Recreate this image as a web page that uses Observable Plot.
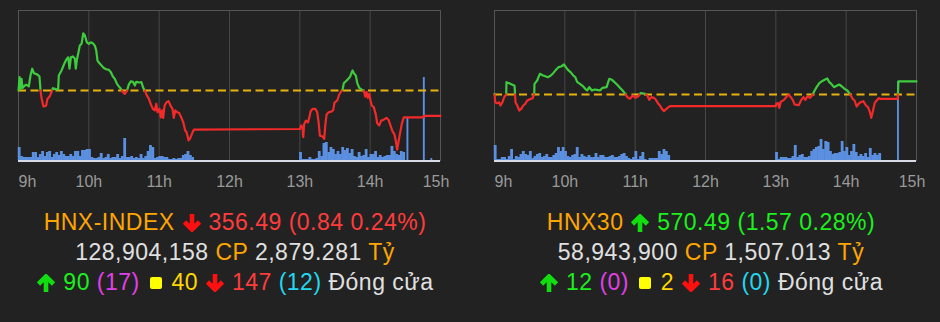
<!DOCTYPE html>
<html><head><meta charset="utf-8">
<script src="https://cdn.jsdelivr.net/npm/d3@7"></script>
<script src="https://cdn.jsdelivr.net/npm/@observablehq/plot@0.6"></script>
<style>
html,body{margin:0;padding:0;background:#222;}
#wrap{position:relative;width:940px;height:322px;background:#222;overflow:hidden;font-family:"Liberation Sans",Arial,Helvetica,sans-serif;}
.panel{position:absolute;top:0;width:470px;height:200px;}
.panel svg{position:absolute;left:0;top:0;}
.info{position:absolute;top:207px;width:470px;text-align:center;font-size:23px;letter-spacing:0.5px;line-height:30px;color:#e0e0e0;white-space:nowrap;}
.info div{height:30px;}
.o{color:#ffa500}.r{color:#ff3c3c}.g{color:#1cf01c}.m{color:#e040e8}.y{color:#ffd700}.c{color:#22d8ef}.w{color:#e0e0e0}
.ar{display:inline-block;vertical-align:-2px;}
.sq{display:inline-block;width:12px;height:12px;border-radius:2px;background:#ffff00;vertical-align:1px;margin:0 3px;}
</style></head>
<body><div id="wrap">
<div class="panel" id="p1" style="left:0"></div>
<div class="panel" id="p2" style="left:470px"></div>
<div class="info" id="i1" style="left:0"></div>
<div class="info" id="i2" style="left:482px;width:458px"></div>
</div>
<script>
// ---------- x ticks ----------
const tickMinutes = [0, 60, 120, 180, 240, 300, 360];
const tickLabels = ["9h", "10h", "11h", "12h", "13h", "14h", "15h"];

// ---------- HNX-INDEX (minutes after 9:00, index value) ----------
const hnxRef = 357.33;
const hnxMin = [0,0.9,1.7,2.6,3.4,4.6,6.5,8.8,10.2,11.7,13.1,15.9,17.9,18.8,19.6,21.3,23.6,24.7,26.5,28.2,29.3,32.1,33.8,34.4,36.7,39.0,40.7,42.4,43.5,44.7,46.4,48.1,48.9,49.8,50.9,52.3,53.8,55.2,56.6,58.3,60.0,61.7,63.4,65.1,66.3,67.4,69.1,70.8,72.5,74.8,77.1,78.8,80.5,82.2,83.9,85.6,87.3,89.0,90.7,92.4,94.1,95.8,97.6,99.3,100.4,103.2,104.9,106.4,107.8,109.5,111.2,112.9,114.6,116.3,117.5,118.6,120.3,121.4,122.6,123.4,124.6,126.3,128.0,129.7,131.4,132.5,133.7,135.4,137.1,138.8,140.5,142.2,143.4,145.1,146.2,147.4,148.5,149.6,
240.0,241.2,242.3,242.9,243.7,245.2,246.9,248.0,249.2,250.9,253.2,254.8,256.0,257.1,259.4,260.8,261.7,262.8,264.5,266.8,268.4,269.6,271.9,273.6,275.3,276.4,277.6,279.3,281.0,282.7,283.8,285.0,286.1,287.8,289.0,290.7,292.9,294.6,295.8,296.9,298.0,299.2,300.3,301.4,303.1,304.8,306.0,307.7,309.4,311.6,313.9,315.6,317.3,319.0,320.7,321.8,323.0,324.1,325.3,327.0,328.7,345.0,345.8,360];
const hnxVal = [357.33,357.78,357.39,357.72,357.42,357.47,357.53,357.47,357.83,358.06,357.91,357.87,357.80,357.33,357.09,356.80,356.83,357.06,357.13,357.28,357.41,357.38,357.37,357.83,358.00,358.22,358.36,358.44,358.06,358.44,358.47,358.39,358.06,358.36,358.56,358.83,358.89,359.24,359.17,358.94,358.89,358.94,358.91,358.83,358.67,358.33,358.24,358.17,358.09,358.04,358.02,357.94,357.80,357.72,357.56,357.47,357.39,357.28,357.22,357.31,357.53,357.64,357.62,357.50,357.62,357.60,357.61,357.42,357.33,357.17,357.06,356.87,356.72,356.67,356.89,356.61,356.72,356.44,356.67,356.42,356.83,356.94,356.98,356.83,356.72,356.42,356.67,356.61,356.58,356.44,356.28,356.00,355.94,355.67,355.72,355.83,355.94,356.03,
356.05,356.17,356.09,355.78,356.22,356.33,356.27,356.42,356.64,356.72,356.72,356.61,356.28,355.83,355.80,355.72,356.17,356.53,356.61,356.63,356.67,356.93,357.00,357.20,357.31,357.36,357.58,357.64,357.71,357.78,357.89,358.00,357.91,357.83,357.58,357.42,357.36,357.33,357.13,357.28,357.09,357.22,357.00,356.83,356.78,356.53,356.24,356.17,356.33,356.36,356.42,356.36,356.17,355.98,355.87,355.67,355.36,355.61,355.87,356.22,356.44,356.44,356.49,356.49];
// volume, 2-minute bins from 9:00 and from 13:00 (arbitrary units)
const hnxVolAM = [13,4,3,3,3,3,8,8,3,6,9,4,8,9,3,6,8,5,9,6,4,4,6,4,9,9,4,10,10,11,11,3,2,2,3,7,2,3,6,2,3,3,6,2,4,22,3,3,4,2,3,2,6,2,4,9,15,13,2,3,4,4,3,3,1,1,2,1,2,2,5,6,9,5,3];
const hnxVolPM = [8,1,1,1,3,1,1,2,9,4,17,18,8,13,11,6,9,6,13,10,12,7,11,4,3,8,4,5,11,3,6,6,9,3,5,3,4,5,5,14,9,6,5,9,8];
const hnxAtcMin = [331.6, 345.6, 352];
const hnxAtcVol = [42, 83, 2];

// ---------- HNX30 ----------
const h30Ref = 568.92;
const h30Min = [0,0.6,2.3,4.0,5.1,6.8,8.5,10.0,10.2,12.5,14.8,17.1,17.9,19.4,21.1,22.8,24.5,26.2,27.9,30.2,32.4,33.9,34.1,36.4,38.7,41.0,43.3,45.5,47.8,50.1,52.4,54.6,56.9,59.2,60.9,62.6,64.9,67.2,68.9,70.6,72.9,75.1,77.4,79.1,80.8,83.1,85.4,87.6,89.9,92.2,95.6,97.9,100.2,102.4,104.7,107.0,109.3,111.6,113.3,115.5,117.2,118.4,120.1,122.4,124.6,128.6,130.3,132.0,133.8,136.0,137.7,139.4,141.1,142.8,144.6,145.7,147.4,149.7,
240.0,240.2,241.9,243.0,244.2,247.0,249.3,251.0,252.7,254.4,256.1,259.5,261.8,263.5,265.2,266.9,269.2,271.4,273.1,274.8,277.1,279.4,281.6,283.9,285.6,287.3,289.6,291.9,294.1,296.4,298.7,301.0,303.2,305.5,307.2,308.9,310.6,312.3,314.6,316.9,318.6,320.3,321.4,322.6,324.3,326.0,327.7,329.4,344.0,344.6,360];
const h30Val = [569.0,568.0,567.88,567.96,567.6,568.0,568.68,568.88,570.4,570.28,570.12,569.96,568.0,567.6,567.0,567.2,567.6,567.8,568.2,568.36,568.44,569.0,570.2,570.6,571.4,571.24,571.12,571.0,571.16,571.48,571.88,572.2,572.28,572.52,572.2,571.88,571.6,571.2,571.0,570.4,570.2,569.96,569.6,569.4,569.8,569.4,569.52,569.48,569.4,569.72,569.8,570.8,570.68,570.4,570.08,569.72,569.4,569.0,568.6,568.4,568.68,568.8,568.52,568.68,569.08,569.0,568.8,568.28,568.6,568.52,568.28,567.88,567.6,567.2,566.92,567.08,567.28,567.52,
567.52,567.8,567.88,567.32,568.04,568.28,568.68,568.92,568.6,568.28,567.72,567.64,568.28,568.6,568.28,568.68,568.52,568.92,569.4,569.8,570.28,570.52,570.68,570.84,570.4,570.2,569.8,569.96,570.12,569.88,569.6,569.4,569.0,568.4,568.2,567.48,567.8,568.0,568.12,567.6,567.4,566.8,566.12,566.8,567.88,568.2,568.48,568.4,568.4,570.49,570.49];
const h30VolAM = [15,1,1,3,3,1,4,11,1,4,3,6,9,6,5,9,2,4,6,7,3,4,6,3,3,5,7,13,9,13,9,4,3,5,6,13,3,6,4,3,5,3,3,7,3,5,5,3,3,4,5,3,3,4,6,7,4,2,1,3,9,1,4,8,1,0,2,2,2,2,9,6,11,9,5];
const h30VolPM = [8,1,3,3,3,2,2,4,15,3,5,6,3,3,4,9,11,13,14,21,11,19,18,9,6,7,7,8,19,9,13,5,9,16,8,4,6,4,7,3,12,5,7,5,7];
const h30AtcMin = [344];
const h30AtcVol = [79];

// ---------- summary texts ----------
const names = ["HNX-INDEX", "HNX30"];
const closes = ["356.49", "570.49"];
const changes = ["0.84", "1.57"];
const pcts = ["0.24%", "0.28%"];
const directions = ["down", "up"];
const shares = ["128,904,158", "58,943,900"];
const values = ["2,879.281", "1,507.013"];
const advancers = ["90", "12"], advCeil = ["17", "0"];
const unchanged = ["40", "2"];
const decliners = ["147", "16"], decFloor = ["12", "0"];

const GREEN = "#3ecb3e", RED = "#f42a2a";

function splitAtRef(ts, vs, ref) {
  const out = []; let seg = 0;
  let up = vs[0] >= ref;
  out.push({t: ts[0], v: vs[0], up, seg});
  for (let i = 1; i < ts.length; i++) {
    const v = vs[i];
    const u = v > ref ? true : v < ref ? false : up;
    if (u !== up) {
      const v0 = vs[i - 1], t0 = ts[i - 1];
      const f = (ref - v0) / (v - v0);
      const tc = t0 + f * (ts[i] - t0);
      out.push({t: tc, v: ref, up, seg});
      seg++; up = u;
      out.push({t: tc, v: ref, up, seg});
    }
    out.push({t: ts[i], v, up, seg});
  }
  return out;
}

function makePanel(el, o) {
  const common = {
    width: 470, height: 200, marginLeft: o.ml, marginRight: o.mr, marginTop: 10, marginBottom: 40,
    x: {domain: [0, 360], axis: null},
    style: {background: "transparent", overflow: "visible"}
  };
  const bars = [
    ...o.am.map((v, i) => ({t: i * 2, w: 2, v})),
    ...o.pm.map((v, i) => ({t: 240 + i * 2, w: 2, v})),
    ...o.atcMin.map((t, i) => ({t, w: 1.2, v: o.atcVol[i]}))
  ];
  const volPlot = Plot.plot({
    ...common,
    y: {domain: [0, 150], axis: null},
    marks: [
      Plot.ruleX(tickMinutes.slice(1, 6), {stroke: "#474747", strokeWidth: 1}),
      Plot.frame({stroke: "#555"}),
      Plot.rect(bars, {x1: "t", x2: d => d.t + d.w, y1: d => 0, y2: "v", fill: "#5b8fe0", insetLeft: -0.25, insetRight: -0.25}),
      Plot.ruleY([0], {stroke: "#d6dbe7", strokeWidth: 2, dy: 0.5})
    ]
  });
  const segs = splitAtRef(o.min, o.val, o.ref);
  const ticks = tickMinutes.map((m, i) => ({m, label: tickLabels[i]}));
  const tickStyle = {x: "m", text: "label", frameAnchor: "bottom", dy: 26, fill: "#9a9a9a", fontSize: 16, fontFamily: "Liberation Sans, Arial, sans-serif"};
  const pricePlot = Plot.plot({
    ...common,
    y: {domain: o.yDomain, axis: null},
    marks: [
      Plot.ruleY([o.ref], {stroke: "#e8b20c", strokeWidth: 2, strokeDasharray: "8,4.5"}),
      Plot.line(segs.filter(d => d.up), {x: "t", y: "v", z: "seg", stroke: GREEN, strokeWidth: 2.2}),
      Plot.line(segs.filter(d => !d.up), {x: "t", y: "v", z: "seg", stroke: RED, strokeWidth: 2.2}),
      Plot.text(ticks.slice(0, 1), {...tickStyle, textAnchor: "start"}),
      Plot.text(ticks.slice(1, 6), {...tickStyle, textAnchor: "middle"}),
      Plot.text(ticks.slice(6), {...tickStyle, textAnchor: "middle", dx: -4.5})
    ]
  });
  el.append(volPlot, pricePlot);
}

makePanel(document.getElementById("p1"), {ml: 18, mr: 30, ref: hnxRef, yDomain: [355, 360], min: hnxMin, val: hnxVal, am: hnxVolAM, pm: hnxVolPM, atcMin: hnxAtcMin, atcVol: hnxAtcVol});
makePanel(document.getElementById("p2"), {ml: 24, mr: 24, ref: h30Ref, yDomain: [561, 579], min: h30Min, val: h30Val, am: h30VolAM, pm: h30VolPM, atcMin: h30AtcMin, atcVol: h30AtcVol});

function arrow(dir) {
  const col = dir === "up" ? "#11dd11" : "#ff1010";
  const path = dir === "up"
    ? "M10 18 V3 M2.5 10 L10 2.5 L17.5 10"
    : "M10 0 V15 M2.5 8 L10 15.5 L17.5 8";
  return `<svg class="ar" width="20" height="18" viewBox="0 0 20 18"><path d="${path}" fill="none" stroke="${col}" stroke-width="4.6" stroke-linejoin="miter" stroke-linecap="butt"/></svg>`;
}
["i1", "i2"].forEach((id, k) => {
  const cc = directions[k] === "up" ? "g" : "r";
  document.getElementById(id).innerHTML =
    `<div><span class="o">${names[k]}</span> ${arrow(directions[k])} <span class="${cc}">${closes[k]} (${changes[k]} ${pcts[k]})</span></div>` +
    `<div><span class="w">${shares[k]}</span> <span class="o">CP</span> <span class="w">${values[k]}</span> <span class="o">Tỷ</span></div>` +
    `<div>${arrow("up")} <span class="g">${advancers[k]}</span> <span class="m">(${advCeil[k]})</span> <span class="sq"></span> <span class="y">${unchanged[k]}</span> ${arrow("down")} <span class="r">${decliners[k]}</span> <span class="c">(${decFloor[k]})</span> <span class="w">Đóng cửa</span></div>`;
});
</script>
</body></html>
